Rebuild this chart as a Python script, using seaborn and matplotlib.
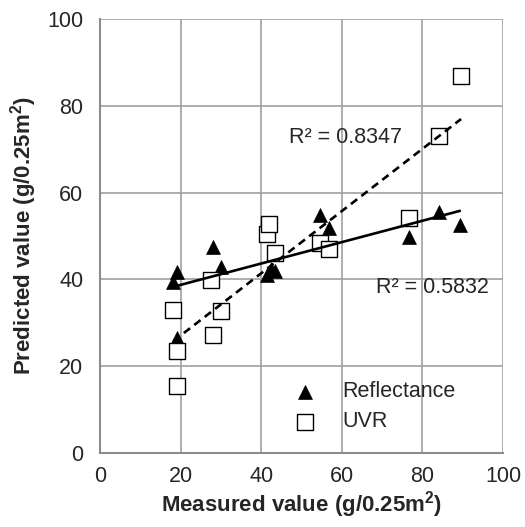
import numpy as np
import pandas as pd
import matplotlib
matplotlib.use("Agg")
import matplotlib.pyplot as plt
import seaborn as sns

# values
refl_measured = [18.2, 19.0, 19.0, 28.1, 30.0, 41.5, 42.5, 43.5, 54.6, 56.7, 76.7, 84.0, 89.3]
refl_predicted = [39.5, 41.8, 26.4, 47.5, 42.9, 41.0, 42.5, 42.0, 54.8, 51.8, 49.8, 55.6, 52.5]

uvr_measured = [18.2, 19.2, 19.2, 27.5, 28.1, 29.9, 41.4, 42.0, 43.4, 54.6, 56.9, 76.7, 84.0, 89.6]
uvr_predicted = [32.9, 23.5, 15.4, 39.9, 27.2, 32.8, 50.5, 52.8, 46.0, 48.5, 46.9, 54.1, 73.0, 86.9]

r2_labels = ["R\u00b2 = 0.5832", "R\u00b2 = 0.8347"]
ticks = [0, 20, 40, 60, 80, 100]

refl = pd.DataFrame({"measured": refl_measured, "predicted": refl_predicted})
uvr = pd.DataFrame({"measured": uvr_measured, "predicted": uvr_predicted})

sns.set_style("white")
plt.rcParams["font.family"] = ["Liberation Sans", "DejaVu Sans"]
fs = 15.5

fig = plt.figure(figsize=(5.25, 5.27), dpi=100)
ax = fig.add_axes([0.1905, 0.1404, 0.7676, 0.8235])

grid_col = "#a0a0a0"

# scatter points
sns.scatterplot(data=refl, x="measured", y="predicted", marker="^", s=100,
                color="black", edgecolor="black", linewidth=0.5,
                label="Reflectance", ax=ax, zorder=3)
sns.scatterplot(data=uvr, x="measured", y="predicted", marker="s", s=130,
                color="white", edgecolor="black", linewidth=1.0,
                label="UVR", ax=ax, zorder=3)

# linear trendlines
sns.regplot(data=refl, x="measured", y="predicted", scatter=False, ci=None,
            color="black", line_kws={"linewidth": 1.9, "zorder": 4}, ax=ax)
sns.regplot(data=uvr, x="measured", y="predicted", scatter=False, ci=None,
            color="black", line_kws={"linewidth": 1.9, "linestyle": (0, (3, 2)), "zorder": 4}, ax=ax)

ax.text(68.5, 38.2, r2_labels[0], fontsize=fs, va="center", ha="left")
ax.text(46.8, 72.8, r2_labels[1], fontsize=fs, va="center", ha="left")

ax.set_xlim(0, 100)
ax.set_ylim(0, 100)
ax.set_xticks(ticks)
ax.set_yticks(ticks)
ax.tick_params(axis="both", labelsize=fs, direction="out", length=5,
               color=grid_col, width=1.2)
ax.tick_params(axis="y", pad=7)
ax.tick_params(axis="x", pad=4)
ax.grid(True, color=grid_col, linewidth=1.2)
ax.set_axisbelow(True)
for side in ["top", "right"]:
    ax.spines[side].set_visible(False)
for side in ["left", "bottom"]:
    ax.spines[side].set_color("#8c8c8c")
    ax.spines[side].set_linewidth(1.5)

ax.set_xlabel("Measured value (g/0.25m$^\\mathregular{2}$)", fontsize=16,
              fontweight="bold", labelpad=2)
ax.set_ylabel("Predicted value (g/0.25m$^\\mathregular{2}$)", fontsize=16,
              fontweight="bold", labelpad=6)

leg = ax.legend(loc="upper left", bbox_to_anchor=(0.455, 0.165), frameon=False,
                fontsize=fs, handletextpad=0.75, labelspacing=0.42,
                borderaxespad=0, borderpad=0)

fig.savefig("out.png", dpi=100)
